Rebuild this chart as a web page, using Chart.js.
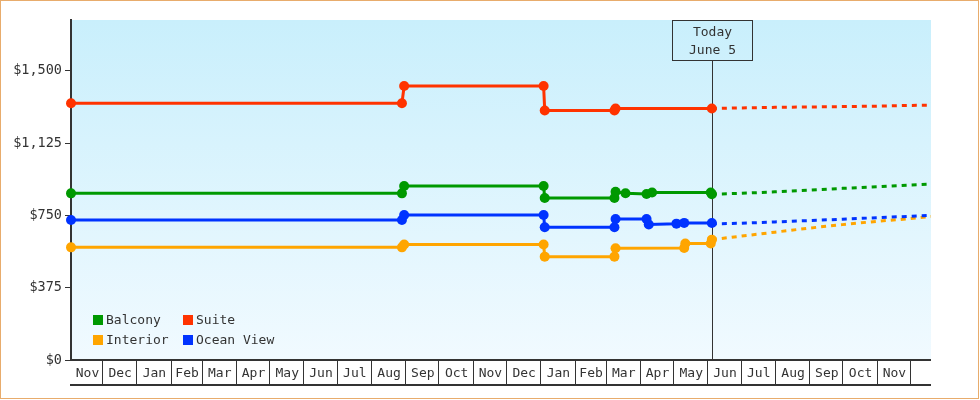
<!DOCTYPE html>
<html lang="en">
<head>
  <meta charset="UTF-8" />
  <title>Cabin Price History</title>
  <script src="https://cdn.jsdelivr.net/npm/chart.js"></script>
  <style>
    html, body { margin: 0; padding: 0; background: #fff; }
    .wrap { width: 980px; height: 400px; }
  </style>
</head>
<body>
  <div class="wrap"><canvas id="priceChart" width="980" height="400"></canvas></div>
  <script>
    // axis range and labels
    const monthNames = ['Jan', 'Feb', 'Mar', 'Apr', 'May', 'Jun', 'Jul', 'Aug', 'Sep', 'Oct', 'Nov', 'Dec'];
    const axisStart = '2013-11-03';
    const axisEnd = '2015-12-20';
    const today = '2015-06-05';
    const todayLabel = ['Today', 'June 5'];
    const yTicks = [0, 375, 750, 1125, 1500];
    const yMax = 1763;

    const seriesNames = ['Balcony', 'Suite', 'Interior', 'Ocean View'];
    const seriesColors = ['#009900', '#ff3300', '#ffa500', '#0033ff'];

    // price history
    const balconyDates = ['2013-11-03', '2014-08-29', '2014-08-31', '2015-01-04', '2015-01-05', '2015-03-09', '2015-03-10', '2015-03-19', '2015-04-07', '2015-04-12', '2015-06-04', '2015-06-05'];
    const balconyPrices = [864, 864, 902, 902, 840, 840, 872, 865, 861, 869, 869, 860];

    const suiteDates = ['2013-11-03', '2014-08-29', '2014-08-31', '2015-01-04', '2015-01-05', '2015-03-09', '2015-03-10', '2015-06-05'];
    const suitePrices = [1331, 1331, 1421, 1421, 1294, 1294, 1304, 1304];

    const interiorDates = ['2013-11-03', '2014-08-29', '2014-08-31', '2015-01-04', '2015-01-05', '2015-03-09', '2015-03-10', '2015-05-11', '2015-05-12', '2015-06-04', '2015-06-05'];
    const interiorPrices = [584, 584, 599, 599, 536, 536, 579, 581, 604, 604, 624];

    const oceanDates = ['2013-11-03', '2014-08-29', '2014-08-31', '2015-01-04', '2015-01-05', '2015-03-09', '2015-03-10', '2015-04-07', '2015-04-09', '2015-05-04', '2015-05-11', '2015-06-05'];
    const oceanPrices = [726, 726, 752, 752, 688, 688, 731, 731, 703, 707, 711, 710];

    // forecast (dashed)
    const forecastDates = ['2015-06-05', '2015-07-01', '2015-08-01', '2015-09-01', '2015-10-01', '2015-11-01', '2015-12-01', '2015-12-20'];
    const balconyForecast = [860, 864, 872, 881, 890, 898, 907, 912];
    const suiteForecast = [1304, 1307, 1310, 1312, 1314, 1316, 1320, 1321];
    const interiorForecast = [624, 642, 663, 684, 702, 719, 733, 744];
    const oceanForecast = [706, 709, 716, 723, 730, 738, 745, 750];

    const FONT = "'DejaVu Sans Mono', monospace";
    const INK = '#333';

    const day = s => {
      const [y, m, d] = s.split('-').map(Number);
      return Date.UTC(y, m - 1, d) / 864e5;
    };
    const toPoints = (dates, vals) => dates.map((d, i) => ({ x: day(d), y: vals[i] }));

    const history = [
      toPoints(balconyDates, balconyPrices),
      toPoints(suiteDates, suitePrices),
      toPoints(interiorDates, interiorPrices),
      toPoints(oceanDates, oceanPrices)
    ];
    const forecast = [balconyForecast, suiteForecast, interiorForecast, oceanForecast]
      .map(vals => toPoints(forecastDates, vals));
    const drawOrder = [3, 4, 2, 1];

    const datasets = [];
    seriesNames.forEach((name, i) => {
      datasets.push({
        label: name,
        data: history[i],
        borderColor: seriesColors[i],
        backgroundColor: seriesColors[i],
        borderWidth: 3,
        pointRadius: 5,
        pointHoverRadius: 5,
        pointBorderWidth: 0,
        clip: false,
        order: drawOrder[i]
      });
      datasets.push({
        label: name + ' forecast',
        data: forecast[i],
        borderColor: seriesColors[i],
        borderWidth: 3,
        borderDash: [5, 5],
        pointRadius: 0,
        order: drawOrder[i]
      });
    });

    const framePlugin = {
      id: 'frame',
      beforeDraw(chart) {
        const { ctx, chartArea: a } = chart;
        ctx.save();
        ctx.fillStyle = '#fff';
        ctx.fillRect(0, 0, chart.width, chart.height);
        const g = ctx.createLinearGradient(0, a.top, 0, a.bottom);
        g.addColorStop(0, '#c9effc');
        g.addColorStop(1, '#f1faff');
        ctx.fillStyle = g;
        ctx.fillRect(a.left, a.top, a.right - a.left, a.bottom - a.top);
        ctx.strokeStyle = '#e8ac6c';
        ctx.lineWidth = 1;
        ctx.strokeRect(0.5, 0.5, 978, 398);
        ctx.restore();
      },
      beforeDatasetsDraw(chart) {
        // today marker
        const { ctx, chartArea: a, scales } = chart;
        const x = Math.round(scales.x.getPixelForValue(day(today))) + 0.5;
        const bw = 80, bh = 40;
        ctx.save();
        ctx.strokeStyle = INK;
        ctx.lineWidth = 1;
        ctx.beginPath();
        ctx.moveTo(x, a.top + bh);
        ctx.lineTo(x, a.bottom);
        ctx.stroke();
        ctx.strokeRect(x - bw / 2, a.top + 0.5, bw, bh);
        ctx.fillStyle = INK;
        ctx.font = '13px ' + FONT;
        ctx.textAlign = 'center';
        ctx.textBaseline = 'middle';
        ctx.fillText(todayLabel[0], x, a.top + 13);
        ctx.fillText(todayLabel[1], x, a.top + 31);
        ctx.restore();
      },
      afterDraw(chart) {
        const { ctx, chartArea: a, scales } = chart;
        const xs = scales.x;
        const lo = xs.min, hi = xs.max;
        const y0 = a.bottom, y1 = a.bottom + 25;
        ctx.save();
        ctx.strokeStyle = INK;
        ctx.fillStyle = INK;
        ctx.lineWidth = 2;
        ctx.beginPath();
        ctx.moveTo(a.left - 1, y0);
        ctx.lineTo(a.right, y0);
        ctx.moveTo(a.left - 1, y1);
        ctx.lineTo(a.right, y1);
        ctx.stroke();

        // month boxes
        ctx.lineWidth = 1;
        ctx.font = '13px ' + FONT;
        ctx.textAlign = 'center';
        ctx.textBaseline = 'middle';
        const s = new Date(lo * 864e5);
        let yr = s.getUTCFullYear(), mo = s.getUTCMonth();
        while (Date.UTC(yr, mo, 1) / 864e5 < hi) {
          const m0 = Date.UTC(yr, mo, 1) / 864e5;
          const m1 = Date.UTC(yr, mo + 1, 1) / 864e5;
          const px0 = xs.getPixelForValue(Math.max(m0, lo));
          const px1 = xs.getPixelForValue(Math.min(m1, hi));
          if (m0 > lo) {
            const bx = Math.round(px0) + 0.5;
            ctx.beginPath();
            ctx.moveTo(bx, y0);
            ctx.lineTo(bx, y1);
            ctx.stroke();
          }
          if (px1 - px0 >= 26) ctx.fillText(monthNames[mo], (px0 + px1) / 2 + 1, y0 + 14);
          mo++;
          if (mo > 11) { mo = 0; yr++; }
        }

        // legend, two columns inside the plot
        ctx.textAlign = 'left';
        seriesNames.forEach((name, i) => {
          const lx = 93 + (i % 2) * 90;
          const ly = 315 + Math.floor(i / 2) * 20;
          ctx.fillStyle = seriesColors[i];
          ctx.fillRect(lx, ly, 10, 10);
          ctx.fillStyle = INK;
          ctx.fillText(name, lx + 13, ly + 6);
        });
        ctx.restore();
      }
    };

    new Chart(document.getElementById('priceChart'), {
      type: 'line',
      data: { datasets: datasets },
      options: {
        responsive: false,
        animation: false,
        layout: { padding: { top: 20, right: 49, bottom: 40, left: 0 } },
        plugins: {
          legend: { display: false },
          tooltip: { enabled: false }
        },
        scales: {
          x: {
            type: 'linear',
            display: false,
            min: day(axisStart),
            max: day(axisEnd)
          },
          y: {
            min: 0,
            max: yMax,
            afterBuildTicks: sc => { sc.ticks = yTicks.map(v => ({ value: v })); },
            afterFit: sc => { sc.width = 71; },
            ticks: {
              color: INK,
              padding: 3,
              font: { family: FONT, size: 13.5 },
              callback: v => '$' + v.toLocaleString('en-US')
            },
            grid: { drawOnChartArea: false, tickLength: 6, color: INK },
            border: { color: INK, width: 2 }
          }
        }
      },
      plugins: [framePlugin]
    });
  </script>
</body>
</html>
